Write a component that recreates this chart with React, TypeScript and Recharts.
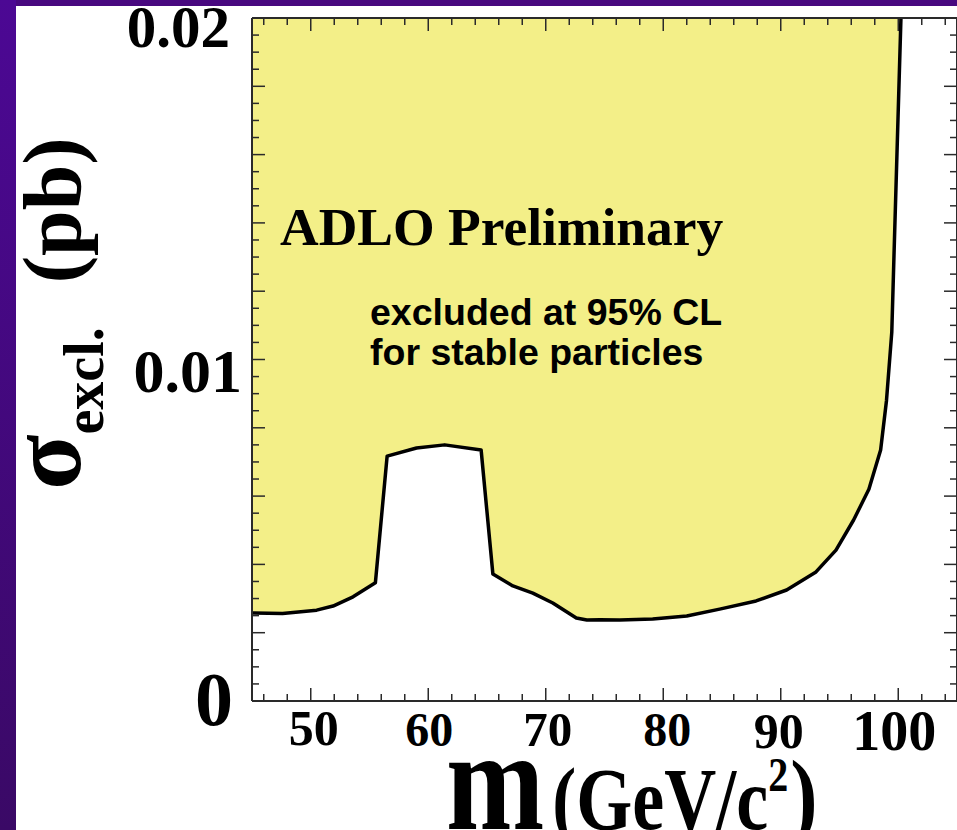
import React from 'react';
import { ComposedChart, Area, XAxis, YAxis, Customized } from 'recharts';

// ---- data ----
const massGeV = [45, 47.6, 50.5, 51.9, 53.6, 55.5, 56.5, 59.0, 61.4, 64.5, 65.5, 67.2, 68.9, 70.6, 72.6, 73.5, 74.6, 76.3, 79.1, 82.0, 84.8, 87.9, 90.5, 93.0, 94.7, 96.2, 97.5, 98.5, 99.0, 99.45, 99.65, 100.23];
const sigmaPb = [0.00258, 0.00256, 0.00266, 0.00278, 0.00305, 0.00346, 0.00717, 0.00741, 0.0075, 0.00735, 0.00372, 0.00337, 0.00316, 0.00287, 0.00243, 0.00237, 0.00238, 0.00237, 0.0024, 0.00249, 0.00269, 0.00293, 0.00325, 0.00378, 0.00442, 0.0053, 0.0062, 0.00735, 0.0088, 0.0108, 0.0132, 0.02];

const xMajorTicks = [50, 60, 70, 80, 90, 100];
const xMinorTicks = [46, 48, 52, 54, 56, 58, 62, 64, 66, 68, 72, 74, 76, 78, 82, 84, 86, 88, 92, 94, 96, 98, 102, 104];
const yLabelTicks = [0, 0.01, 0.02];
const yLabelText = ['0', '0.01', '0.02'];
const yMajorTicks = [0.002, 0.004, 0.006, 0.008, 0.01, 0.012, 0.014, 0.016, 0.018];
const yMinorTicks = [0.0005, 0.001, 0.0015, 0.0025, 0.003, 0.0035, 0.0045, 0.005, 0.0055, 0.0065, 0.007, 0.0075, 0.0085, 0.009, 0.0095, 0.0105, 0.011, 0.0115, 0.0125, 0.013, 0.0135, 0.0145, 0.015, 0.0155, 0.0165, 0.017, 0.0175, 0.0185, 0.019, 0.0195];

const xDomain = [45, 105];
const yDomain = [0, 0.02];

const data = massGeV.map((m, i) => ({ m, s: sigmaPb[i] }));

// ---- styles ----
const SERIF = '"Liberation Serif", "Times New Roman", serif';
const SANS = '"Liberation Sans", Arial, sans-serif';
const AX = '#2a2a2a';
const FILL = '#f3ef88';

const xLabelStyle: Record<string, { dx: number; dy: number; size: number }> = {
  '50': { dx: 3, dy: 44, size: 50 },
  '60': { dx: 1, dy: 45, size: 48 },
  '70': { dx: 2, dy: 45, size: 49 },
  '80': { dx: 4, dy: 45, size: 48 },
  '90': { dx: -2, dy: 47, size: 50 },
  '100': { dx: -4, dy: 49, size: 56 },
};
const yLabelStyle: Record<string, { dx: number; dy: number; size: number }> = {
  '0': { dx: -9, dy: 24, size: 76 },
  '0.01': { dx: 0, dy: 32, size: 62 },
  '0.02': { dx: -12, dy: 29, size: 59 },
};

function XTick(props: any) {
  const { x, y, payload } = props;
  const label = String(payload.value);
  const st = xLabelStyle[label] || { dx: 0, dy: 45, size: 48 };
  return (
    <text x={x + st.dx} y={y + st.dy} textAnchor="middle" fontFamily={SERIF} fontWeight="bold" fontSize={st.size} fill="#000">
      {label}
    </text>
  );
}

function YTick(props: any) {
  const { x, y, payload } = props;
  const idx = yLabelTicks.indexOf(payload.value);
  const label = yLabelText[idx];
  const st = yLabelStyle[label] || { dx: 0, dy: 30, size: 64 };
  return (
    <text x={x + st.dx} y={y + st.dy} textAnchor="end" fontFamily={SERIF} fontWeight="bold" fontSize={st.size} fill="#000">
      {label}
    </text>
  );
}

function NoTick() {
  return <g />;
}

function AxisTitles() {
  return (
    <g>
      {/* y-axis title */}
      <text transform="translate(80, 490) rotate(-90)" fontFamily={SERIF} fontWeight="bold" fill="#000">
        <tspan fontSize={102}>σ</tspan>
        <tspan fontSize={56} dy={23}>excl.</tspan>
        <tspan fontSize={82} dy={-23} dx={44}>(pb)</tspan>
      </text>
      {/* x-axis title */}
      <text transform="translate(446, 829) scale(1, 1.22)" fontFamily={SERIF} fontWeight="bold" fill="#000">
        <tspan fontSize={118}>m</tspan>
        <tspan fontSize={72} dx={8}>(GeV/c</tspan>
        <tspan fontSize={40} dy={-31}>2</tspan>
        <tspan fontSize={82} dy={31} dx={2}>)</tspan>
      </text>
    </g>
  );
}

const tickLineStyle = { stroke: AX, strokeWidth: 1.5 };
const axisLineStyle = { stroke: AX, strokeWidth: 2 };

export default function App() {
  return (
    <div style={{ position: 'absolute', left: 0, top: 0, width: 957, height: 830, background: '#ffffff', overflow: 'hidden' }}>
      <ComposedChart width={957} height={830} data={data} margin={{ top: 18, right: 0, bottom: 0, left: 0 }}>
        {/* main axes with labels */}
        <XAxis xAxisId="main" dataKey="m" type="number" domain={xDomain} allowDataOverflow ticks={xMajorTicks} interval={0}
          height={129} axisLine={axisLineStyle} tickLine={false} tickSize={0} tickMargin={0} tick={<XTick />} />
        <YAxis yAxisId="main" type="number" domain={yDomain} allowDataOverflow ticks={yLabelTicks} interval={0}
          width={252} axisLine={axisLineStyle} tickLine={false} tickSize={0} tickMargin={10} tick={<YTick />} />

        {/* inward tick marks: bottom */}
        <XAxis xAxisId="bMaj" dataKey="m" type="number" domain={xDomain} allowDataOverflow ticks={xMajorTicks} interval={0}
          orientation="bottom" mirror height={0.01} axisLine={false} tick={<NoTick />} tickSize={13} tickLine={tickLineStyle} />
        <XAxis xAxisId="bMin" dataKey="m" type="number" domain={xDomain} allowDataOverflow ticks={xMinorTicks} interval={0}
          orientation="bottom" mirror height={0.01} axisLine={false} tick={<NoTick />} tickSize={7} tickLine={tickLineStyle} />
        {/* top */}
        <XAxis xAxisId="tMaj" dataKey="m" type="number" domain={xDomain} allowDataOverflow ticks={xMajorTicks} interval={0}
          orientation="top" mirror height={0.01} axisLine={axisLineStyle} tick={<NoTick />} tickSize={13} tickLine={tickLineStyle} />
        <XAxis xAxisId="tMin" dataKey="m" type="number" domain={xDomain} allowDataOverflow ticks={xMinorTicks} interval={0}
          orientation="top" mirror height={0.01} axisLine={false} tick={<NoTick />} tickSize={7} tickLine={tickLineStyle} />
        {/* left */}
        <YAxis yAxisId="lMaj" type="number" domain={yDomain} allowDataOverflow ticks={yMajorTicks} interval={0}
          orientation="left" mirror width={0.01} axisLine={false} tick={<NoTick />} tickSize={13} tickLine={tickLineStyle} />
        <YAxis yAxisId="lMin" type="number" domain={yDomain} allowDataOverflow ticks={yMinorTicks} interval={0}
          orientation="left" mirror width={0.01} axisLine={false} tick={<NoTick />} tickSize={7} tickLine={tickLineStyle} />
        {/* right */}
        <YAxis yAxisId="rMaj" type="number" domain={yDomain} allowDataOverflow ticks={yMajorTicks} interval={0}
          orientation="right" mirror width={0.01} axisLine={axisLineStyle} tick={<NoTick />} tickSize={13} tickLine={tickLineStyle} />
        <YAxis yAxisId="rMin" type="number" domain={yDomain} allowDataOverflow ticks={yMinorTicks} interval={0}
          orientation="right" mirror width={0.01} axisLine={false} tick={<NoTick />} tickSize={7} tickLine={tickLineStyle} />

        <Area xAxisId="main" yAxisId="main" dataKey="s" type="linear" baseValue={0.02}
          fill={FILL} fillOpacity={1} stroke="#000" strokeWidth={3.5} strokeLinejoin="round" dot={false} activeDot={false}
          isAnimationActive={false} />
        <Customized component={AxisTitles} />
      </ComposedChart>
      {/* annotation text layer, above the filled region */}
      <svg width={957} height={830} style={{ position: 'absolute', left: 0, top: 0, zIndex: 4, pointerEvents: 'none' }}>
        <text x={280} y={245} fontFamily={SERIF} fontWeight="bold" fontSize={53.5} fill="#000">ADLO Preliminary</text>
        <text x={370} y={325} fontFamily={SANS} fontWeight="bold" fontSize={37.5} fill="#000">excluded at 95% CL</text>
        <text x={370} y={365} fontFamily={SANS} fontWeight="bold" fontSize={37.5} fill="#000">for stable particles</text>
      </svg>
      <div style={{ position: 'absolute', left: 0, top: 0, width: 957, height: 6, background: '#48087f', zIndex: 5 }} />
      <div style={{ position: 'absolute', left: 0, top: 0, width: 16, height: 830, background: 'linear-gradient(to bottom, #4c0894, #3a0966)', zIndex: 5 }} />
    </div>
  );
}
